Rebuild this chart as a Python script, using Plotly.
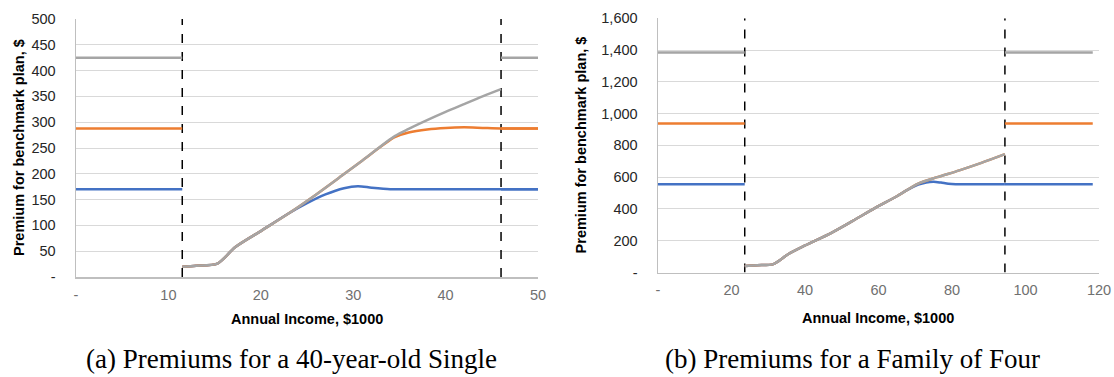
import plotly.graph_objects as go

# ---------------- data: (a) 40-year-old single ----------------
fpl_a = [11.5, 46.0]                      # 100% and 400% FPL, $1000
flat_left_a = [0, 11.5]
flat_right_a = [46.0, 50.0]
flat_blue_a, flat_orange_a, flat_gray_a = 170, 288, 425

inc_gray_a = [11.5, 13, 15.3, 17.25, 20, 23, 26, 28.75, 31, 34.5, 36, 38, 40, 42, 44, 46]
gray_a = [20, 22, 26, 58, 89, 123, 160, 196, 226, 273, 287, 304, 320, 335, 350, 364]

inc_orange_a = [11.5, 13, 15.3, 17.25, 20, 23, 26, 28.75, 31, 34.5, 36, 38, 40, 42, 44, 46, 48, 50]
orange_a = [20, 22, 26, 58, 89, 123, 160, 196, 226, 271, 280, 286, 289, 290, 289, 288, 288, 288]

inc_blue_a = [11.5, 13, 15.3, 17.25, 20, 23, 25, 27, 29, 30.5, 32, 34, 36, 40, 46, 50]
blue_a = [20, 22, 26, 58, 89, 123, 143, 160, 172, 176, 173, 170, 170, 170, 170, 170]

# ---------------- data: (b) family of four ----------------
fpl_b = [23.6, 94.4]
flat_left_b = [0, 23.6]
flat_right_b = [94.4, 118.3]
flat_blue_b, flat_orange_b, flat_gray_b = 556, 938, 1385

inc_gray_b = [23.6, 27, 31.4, 35.4, 40, 47.2, 53, 59, 65, 70.8, 76, 82, 88, 94.4]
gray_b = [41, 46, 53, 115, 170, 250, 325, 405, 480, 560, 600, 643, 690, 745]
orange_b = gray_b

inc_blue_b = [23.6, 27, 31.4, 35.4, 40, 47.2, 53, 59, 65, 68, 70.8, 73, 75, 77, 79, 81, 88, 94.4]
blue_b = [41, 46, 53, 115, 170, 250, 325, 405, 480, 522, 553, 567, 571, 566, 559, 556, 556, 556]

# ticks
yt_a = [0, 50, 100, 150, 200, 250, 300, 350, 400, 450, 500]
yt_a_txt = ["-", "50", "100", "150", "200", "250", "300", "350", "400", "450", "500"]
xt_a = [0, 10, 20, 30, 40, 50]
xt_a_txt = ["-", "10", "20", "30", "40", "50"]
yt_b = [0, 200, 400, 600, 800, 1000, 1200, 1400, 1600]
yt_b_txt = ["-", "200", "400", "600", "800", "1,000", "1,200", "1,400", "1,600"]
xt_b = [0, 20, 40, 60, 80, 100, 120]
xt_b_txt = ["-", "20", "40", "60", "80", "100", "120"]

BLUE, ORANGE, GRAY = "#4472C4", "#ED7D31", "#A5A5A5"
LW = 2.5

fig = go.Figure()

def add_panel(xa, ya, fpl, fl, fr, fb, fo, fg, ib, vb, io, vo, ig, vg, ytop):
    for v in fpl:
        fig.add_trace(go.Scatter(x=[v, v], y=[0, ytop], mode="lines",
                                 line=dict(color="black", width=1.5, dash="dash"),
                                 xaxis=xa, yaxis=ya, showlegend=False, hoverinfo="skip"))
    for val, col in [(fb, BLUE), (fo, ORANGE), (fg, GRAY)]:
        for seg in (fl, fr):
            fig.add_trace(go.Scatter(x=seg, y=[val, val], mode="lines",
                                     line=dict(color=col, width=LW),
                                     xaxis=xa, yaxis=ya, showlegend=False))
    for xs, ys, col in [(ib, vb, BLUE), (io, vo, ORANGE), (ig, vg, GRAY)]:
        fig.add_trace(go.Scatter(x=xs, y=ys, mode="lines",
                                 line=dict(color=col, width=LW, shape="spline", smoothing=0.8),
                                 xaxis=xa, yaxis=ya, showlegend=False))

add_panel("x", "y", fpl_a, flat_left_a, flat_right_a, flat_blue_a, flat_orange_a, flat_gray_a,
          inc_blue_a, blue_a, inc_orange_a, orange_a, inc_gray_a, gray_a, 500)
add_panel("x2", "y2", fpl_b, flat_left_b, flat_right_b, flat_blue_b, flat_orange_b, flat_gray_b,
          inc_blue_b, blue_b, inc_gray_b, orange_b, inc_gray_b, gray_b, 1600)

W, H = 1114, 377
TICKFONT_Y = dict(family="Liberation Sans, Arial", size=14.5, color="#262626")
TICKFONT_X = dict(family="Liberation Sans, Arial", size=14.5, color="#707070")
GRID = "#D9D9D9"
AXL = "#BFBFBF"

common_x = dict(showgrid=False, zeroline=False, showline=True, linecolor=AXL, linewidth=1.5,
                ticks="", tickfont=TICKFONT_X, ticklabelstandoff=4, fixedrange=True,
                automargin=False)
common_y = dict(showgrid=True, gridcolor=GRID, gridwidth=1, zeroline=False, showline=True,
                linecolor=AXL, linewidth=1.5, ticks="", tickfont=TICKFONT_Y,
                ticklabelstandoff=16, fixedrange=True, automargin=False)

fig.update_layout(
    template="none",
    width=W, height=H, margin=dict(l=0, r=0, t=0, b=0, pad=0, autoexpand=False),
    paper_bgcolor="white", plot_bgcolor="white", showlegend=False,
    xaxis=dict(common_x, domain=[76 / W, 538 / W], range=[0, 50],
               tickvals=xt_a, ticktext=xt_a_txt, anchor="y"),
    yaxis=dict(common_y, domain=[1 - 277 / H, 1 - 19 / H], range=[0, 500],
               tickvals=yt_a, ticktext=yt_a_txt, anchor="x"),
    xaxis2=dict(common_x, domain=[658 / W, 1099 / W], range=[0, 120],
                tickvals=xt_b, ticktext=xt_b_txt, anchor="y2"),
    yaxis2=dict(common_y, domain=[1 - 272.5 / H, 1 - 18.3 / H], range=[0, 1600],
                tickvals=yt_b, ticktext=yt_b_txt, anchor="x2"),
)

TF = dict(family="Liberation Sans, Arial", size=14.5, color="black")
ann = [
    dict(text="<b>Annual Income, $1000</b>", x=306.5 / W, y=1 - 319 / H),
    dict(text="<b>Annual Income, $1000</b>", x=878 / W, y=1 - 318 / H),
    dict(text="<b>Premium for benchmark plan, $</b>", x=19 / W, y=1 - 148 / H, textangle=-90),
    dict(text="<b>Premium for benchmark plan, $</b>", x=581 / W, y=1 - 145.4 / H, textangle=-90),
]
for a in ann:
    fig.add_annotation(xref="paper", yref="paper", showarrow=False, xanchor="center",
                       yanchor="middle", font=TF, **a)

CF = dict(family="Liberation Serif, Times New Roman, serif", size=27, color="black")
fig.add_annotation(text="(a) Premiums for a 40-year-old Single", x=291 / W, y=0,
                   xref="paper", yref="paper", showarrow=False, xanchor="center",
                   yanchor="bottom", yshift=1, font=CF)
fig.add_annotation(text="(b) Premiums for a Family of Four", x=852.5 / W, y=0,
                   xref="paper", yref="paper", showarrow=False, xanchor="center",
                   yanchor="bottom", yshift=1, font=CF)

fig.write_html("out.html", config={"displayModeBar": False, "staticPlot": True},
               post_script="document.body.style.margin='0';document.body.style.overflow='hidden';")
